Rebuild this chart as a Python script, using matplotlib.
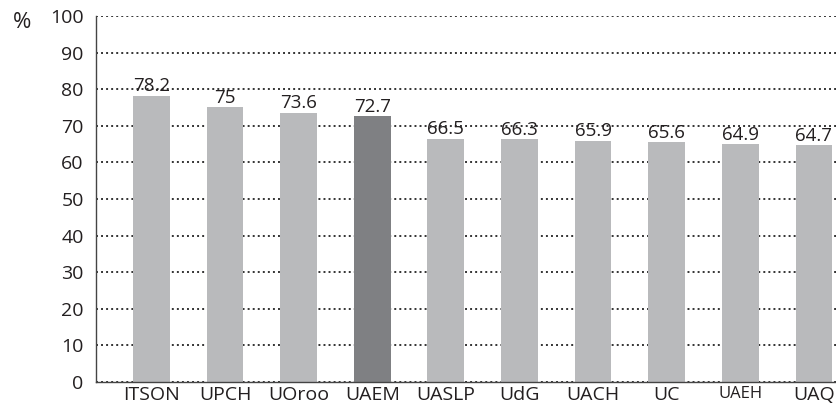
import matplotlib.pyplot as plt
import numpy as np

plt.rcParams['font.family'] = ['Open Sans', 'DejaVu Sans']

# universities and their percentages
schools = ['ITSON', 'UPCH', 'UOroo', 'UAEM', 'UASLP', 'UdG', 'UACH', 'UC', 'UAEH', 'UAQ']
values = [78.2, 75, 73.6, 72.7, 66.5, 66.3, 65.9, 65.6, 64.9, 64.7]
value_labels = ['78.2', '75', '73.6', '72.7', '66.5', '66.3', '65.9', '65.6', '64.9', '64.7']
highlight = 'UAEM'

light = '#b9babc'
dark = '#7f8083'
colors = [dark if s == highlight else light for s in schools]

fig = plt.figure(figsize=(8.36, 4.07), dpi=100)
ax = fig.add_axes([0.115, 0.0614, 0.885, 0.8993])

x = np.arange(len(schools))
ax.bar(x, values, width=0.5, color=colors, zorder=2)

for xi, v, lab in zip(x, values, value_labels):
    ax.text(xi, v + 0.1, lab, ha='center', va='bottom', fontsize=13.5, color='#231f20', zorder=3)

ax.set_xlim(-0.75, 9.3)
ax.set_ylim(0, 100)
ax.set_yticks(range(0, 101, 10))
ax.set_xticks(x)
ax.set_xticklabels(schools)
ax.tick_params(axis='both', length=0, labelsize=14, colors='#231f20')
ax.tick_params(axis='y', pad=9)
ax.tick_params(axis='x', pad=3)
for t in ax.get_xticklabels():
    if t.get_text() == 'UAEH':
        t.set_fontsize(12)

ax.yaxis.grid(True, linestyle=(0, (1, 1.6)), color='#333333', linewidth=1.4, zorder=1)
ax.set_axisbelow(True)
for s in ['top', 'right']:
    ax.spines[s].set_visible(False)
for s in ['left', 'bottom']:
    ax.spines[s].set_color('#444444')
    ax.spines[s].set_linewidth(1.0)

fig.text(22 / 836, 1 - 22 / 407, '%', ha='center', va='center', fontsize=16, color='#231f20')

fig.savefig('out.png', dpi=100)
